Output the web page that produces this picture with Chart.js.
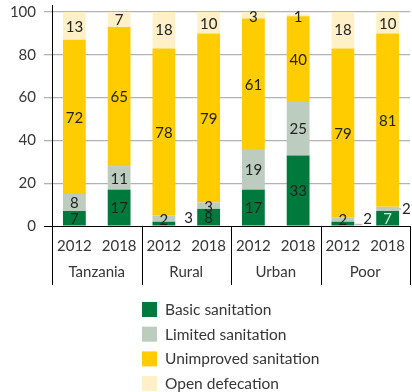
<!DOCTYPE html>
<html>
<head>
<meta charset="utf-8">
<script src="https://cdn.jsdelivr.net/npm/chart.js@4.4.1/dist/chart.umd.min.js"></script>
<style>
  html, body { margin: 0; padding: 0; background: #fff; }
  #wrap { width: 412px; height: 392px; position: relative; }
</style>
</head>
<body>
<div id="wrap"><canvas id="c" width="412" height="392"></canvas></div>
<script>
// Sanitation service levels (% of population), 2012 vs 2018
const categories = ['2012', '2018', '2012', '2018', '2012', '2018', '2012', '2018'];
const groups = ['Tanzania', 'Rural', 'Urban', 'Poor'];
const basic      = [7, 17, 2, 8, 17, 33, 2, 7];
const limited    = [8, 11, 3, 3, 19, 25, 2, 2];
const unimproved = [72, 65, 78, 79, 61, 40, 79, 81];
const openDef    = [13, 7, 18, 10, 3, 1, 18, 10];
const seriesNames = ['Basic sanitation', 'Limited sanitation', 'Unimproved sanitation', 'Open defecation'];
const yTicks = [0, 20, 40, 60, 80, 100];

const FONT = 'Lato, "Open Sans", sans-serif';
const TEXT = '#363636';
const colors = ['#007a3c', '#bccdbf', '#ffcc00', '#fff0c8'];

// Value labels: centred in each segment; a few small segments are labelled beside the bar
const labelPlugin = {
  id: 'segmentLabels',
  afterDatasetsDraw(chart, args, opts) {
    const ctx = chart.ctx;
    const zeroY = chart.scales.y.getPixelForValue(0);
    ctx.save();
    ctx.font = '15px ' + FONT;
    ctx.textBaseline = 'middle';
    chart.data.datasets.forEach((ds, i) => {
      const meta = chart.getDatasetMeta(i);
      meta.data.forEach((bar, j) => {
        const v = ds.data[j];
        const key = i + '-' + j;
        let yc = (bar.y + bar.base) / 2;
        yc = Math.min(yc, zeroY - 7);
        yc = Math.max(yc, chart.chartArea.top + 4);
        const out = opts.outside[key];
        if (out) {
          const right = bar.x + bar.width / 2;
          if (out.leader) {
            const ly = out.ly !== undefined ? zeroY - out.ly : yc;
            ctx.strokeStyle = '#bdbdbd';
            ctx.lineWidth = 1.5;
            ctx.beginPath();
            ctx.moveTo(right, ly);
            ctx.lineTo(right + out.dx - 1, ly);
            ctx.stroke();
          }
          ctx.fillStyle = '#222';
          ctx.textAlign = 'left';
          ctx.fillText(String(v), right + out.dx, yc + (out.dy || 0));
        } else {
          ctx.fillStyle = opts.lightText[key] ? '#d6e4d9' : '#222';
          ctx.textAlign = 'center';
          ctx.fillText(String(v), bar.x, yc + 1);
        }
      });
    });
    ctx.restore();
  }
};

// Axis line, group separators, group names and the legend
const framePlugin = {
  id: 'frame',
  afterDraw(chart) {
    const ctx = chart.ctx;
    const area = chart.chartArea;
    const x = chart.scales.x;
    const bottomY = area.bottom + 59;
    ctx.save();
    ctx.strokeStyle = '#000';
    ctx.lineWidth = 1;
    // y axis line
    ctx.beginPath();
    ctx.moveTo(area.left + 0.5, area.top - 7);
    ctx.lineTo(area.left + 0.5, bottomY);
    ctx.stroke();
    // group separators below the axis
    const half = (x.getPixelForValue(1) - x.getPixelForValue(0)) / 2;
    for (let g = 1; g <= groups.length; g++) {
      const bx = Math.round(x.getPixelForValue(g * 2 - 1) + half) + 0.5;
      ctx.beginPath();
      ctx.moveTo(bx, area.bottom);
      ctx.lineTo(bx, bottomY);
      ctx.stroke();
    }
    // group names
    ctx.fillStyle = TEXT;
    ctx.font = '15px ' + FONT;
    ctx.textAlign = 'center';
    ctx.textBaseline = 'middle';
    groups.forEach((name, g) => {
      const cx = (x.getPixelForValue(g * 2) + x.getPixelForValue(g * 2 + 1)) / 2;
      ctx.fillText(name, cx, area.bottom + 46);
    });
    // legend
    ctx.textAlign = 'left';
    ctx.font = '15.5px ' + FONT;
    chart.data.datasets.forEach((ds, i) => {
      const top = 302 + i * 24.7;
      ctx.fillStyle = ds.backgroundColor;
      ctx.fillRect(142, top, 15, 15);
      ctx.fillStyle = TEXT;
      ctx.fillText(ds.label, 165, top + 8);
    });
    ctx.restore();
  }
};

const seriesData = [basic, limited, unimproved, openDef];

new Chart(document.getElementById('c'), {
  type: 'bar',
  data: {
    labels: categories,
    datasets: seriesData.map((d, i) => ({
      label: seriesNames[i],
      data: d,
      backgroundColor: colors[i],
      borderWidth: 0,
      barPercentage: 0.51,
      categoryPercentage: 1.0
    }))
  },
  options: {
    responsive: false,
    animation: false,
    devicePixelRatio: 1,
    layout: { padding: { top: 12, right: 2, bottom: 100, left: 0 } },
    plugins: {
      legend: { display: false },
      tooltip: { enabled: false },
      segmentLabels: {
        outside: {
          '1-2': { dx: 9 },
          '1-6': { dx: 9, leader: true, ly: 1.5 },
          '1-7': { dx: 3, leader: true }
        },
        lightText: { '0-7': true }
      }
    },
    scales: {
      x: {
        stacked: true,
        grid: { display: false },
        border: { display: false },
        ticks: { color: TEXT, font: { family: FONT, size: 15 }, padding: 3, maxRotation: 0, autoSkip: false },
        afterFit: s => { s.height = 66; }
      },
      y: {
        stacked: true,
        min: 0,
        max: 100,
        afterBuildTicks: s => { s.ticks = yTicks.map(v => ({ value: v })); },
        ticks: { color: TEXT, font: { family: FONT, size: 15 }, padding: 8 },
        grid: {
          color: c => (c.tick && c.tick.value === 0) ? '#000' : '#b3b3b3',
          lineWidth: c => (c.tick && c.tick.value === 0) ? 1 : 1.3,
          tickLength: 8
        },
        border: { display: false },
        afterFit: s => { s.width = 52; s.paddingTop = 0; s.paddingBottom = 0; }
      }
    }
  },
  plugins: [labelPlugin, framePlugin]
});
</script>
</body>
</html>
